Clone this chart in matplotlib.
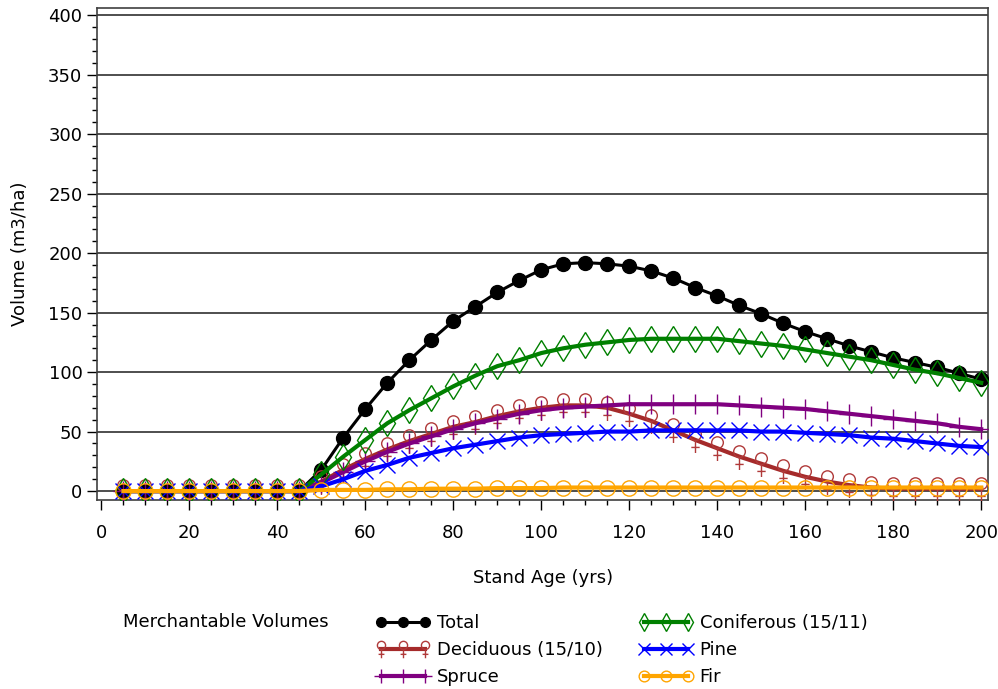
import numpy as np
import matplotlib
matplotlib.use('Agg')
import matplotlib.pyplot as plt
from matplotlib.path import Path
from matplotlib.ticker import MultipleLocator

plt.rcParams['font.family'] = ['DejaVu Sans']

# stand age (yrs)
age = list(range(5, 205, 5))

# merchantable volumes (m3/ha)
total = [0] * 9 + [18, 45, 69, 91, 110, 127, 143, 155, 167, 177,
                   186, 191, 192, 191, 189, 185, 179, 171, 164, 156,
                   149, 141, 134, 128, 122, 117, 112, 108, 104, 99, 94]
coniferous = [0] * 9 + [14, 29, 43, 57, 68, 78, 88, 97, 105, 110,
                        116, 120, 123, 125, 127, 128, 128, 128, 128, 126,
                        124, 122, 119, 116, 113, 110, 106, 102, 99, 95, 91]
deciduous = [0] * 9 + [8, 18, 27, 35, 42, 48, 54, 58, 63, 67,
                       70, 72, 72, 70, 65, 59, 51, 43, 36, 29,
                       23, 17, 12, 8, 5, 3, 2, 2, 2, 2, 2]
spruce = [0] * 9 + [7, 16, 25, 33, 40, 46, 52, 57, 61, 65,
                    68, 70, 71, 72, 73, 73, 73, 73, 73, 72,
                    71, 70, 69, 67, 65, 63, 61, 59, 57, 54, 52]
pine = [0] * 9 + [4, 10, 17, 22, 28, 32, 36, 39, 42, 45,
                  47, 48, 49, 50, 50, 51, 51, 51, 51, 51,
                  50, 50, 49, 48, 47, 45, 44, 42, 40, 38, 37]
fir = [0] * 9 + [1, 1, 1, 1.5, 1.5, 2, 2, 2, 2.5, 2.5,
                 2.5, 3, 3, 3, 3, 3, 3, 3, 3, 3,
                 3, 3, 3, 3, 3, 3, 3, 3, 3, 3, 3]

# deciduous marker: circle on a little cross (like a female sign)
circ = Path.circle(center=(0, 0.42), radius=0.42)
stem = Path([(0, 0), (0, -0.9), (-0.3, -0.5), (0.3, -0.5)],
            [Path.MOVETO, Path.LINETO, Path.MOVETO, Path.LINETO])
dec_marker = Path.make_compound_path(circ, stem)

fig = plt.figure(figsize=(9.98, 6.89), dpi=100)
ax = fig.add_axes([0.0972, 0.2743, 0.893, 0.7141])

l_tot, = ax.plot(age, total, color='black', lw=2.2, marker='o', ms=10,
                 label='Total', zorder=3)
l_dec, = ax.plot(age, deciduous, color='#a52a2a', lw=3, marker=dec_marker,
                 ms=18, mfc='none', mec='#b03a3a', mew=1,
                 label='Deciduous (15/10)', zorder=3)
l_spr, = ax.plot(age, spruce, color='#800080', lw=3, marker='+', ms=14,
                 mew=1, label='Spruce', zorder=3)
l_con, = ax.plot(age, coniferous, color='#008000', lw=3, marker='d', ms=13,
                 mfc='none', mew=1, label='Coniferous (15/11)', zorder=3)
l_pin, = ax.plot(age, pine, color='#0000ff', lw=3, marker='x', ms=12,
                 mew=1, label='Pine', zorder=3)
l_fir, = ax.plot(age, fir, color='#ffa500', lw=3, marker='o', ms=11,
                 mfc='none', mew=1, label='Fir', zorder=3)

ax.set_xlim(-1, 201.6)
ax.set_ylim(-7.5, 406)
ax.xaxis.set_major_locator(MultipleLocator(20))
ax.xaxis.set_minor_locator(MultipleLocator(5))
ax.yaxis.set_major_locator(MultipleLocator(50))
ax.yaxis.set_minor_locator(MultipleLocator(10))
ax.set_yticks(np.arange(0, 401, 50))
ax.tick_params(which='major', length=7, width=1, labelsize=13)
ax.tick_params(axis='x', which='major', pad=10)
ax.tick_params(which='minor', length=3.5, width=1)
ax.grid(axis='y', which='major', color='#303030', lw=1.2, zorder=1)
ax.set_axisbelow(True)
for s in ax.spines.values():
    s.set_color('#404040')
    s.set_linewidth(1.2)

ax.set_xlabel('Stand Age (yrs)', fontsize=13, labelpad=20)
ax.set_ylabel('Volume (m3/ha)', fontsize=13, labelpad=14)

fig.text(123 / 998, 1 - 622 / 689, 'Merchantable Volumes', fontsize=13,
         va='center', ha='left')

leg_kw = dict(bbox_transform=fig.transFigure, loc='upper left',
              frameon=False, fontsize=13, numpoints=3, handlelength=3.0,
              borderpad=0, labelspacing=0.5, handletextpad=0.35,
              markerscale=0.7)
leg1 = ax.legend(handles=[l_tot, l_dec, l_spr],
                 bbox_to_anchor=(367 / 998, 1 - 605 / 689), **leg_kw)
ax.add_artist(leg1)
ax.legend(handles=[l_con, l_pin, l_fir],
          bbox_to_anchor=(630 / 998, 1 - 605 / 689), **leg_kw)

fig.savefig('out.png', dpi=100)
